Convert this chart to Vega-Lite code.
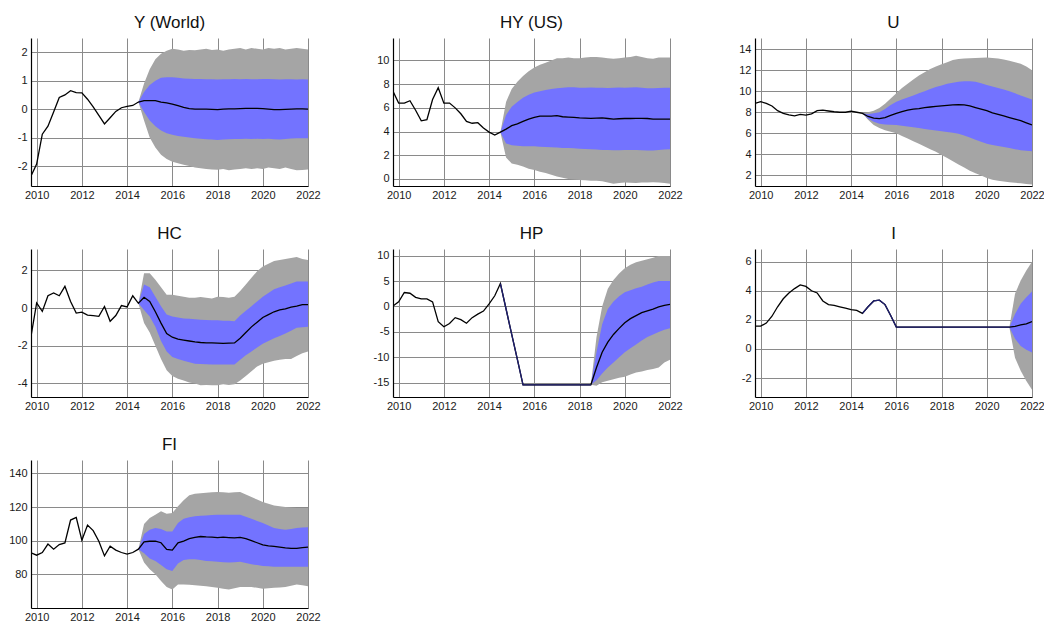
{
"$schema": "https://vega.github.io/schema/vega-lite/v6.json",
"padding": {"left": 8, "top": 14, "right": 0, "bottom": 5},
"background": "white",
"datasets": {
"d": [
{"p":"Y","t":2009.75,"m":-2.35},{"p":"Y","t":2010,"m":-1.93},{"p":"Y","t":2010.25,"m":-0.88},{"p":"Y","t":2010.5,"m":-0.6},{"p":"Y","t":2010.75,"m":-0.1},{"p":"Y","t":2011,"m":0.41},{"p":"Y","t":2011.25,"m":0.5},{"p":"Y","t":2011.5,"m":0.65},{"p":"Y","t":2011.75,"m":0.58},{"p":"Y","t":2012,"m":0.57},{"p":"Y","t":2012.25,"m":0.35},{"p":"Y","t":2012.5,"m":0.08},{"p":"Y","t":2012.75,"m":-0.22},{"p":"Y","t":2013,"m":-0.52},{"p":"Y","t":2013.25,"m":-0.3},{"p":"Y","t":2013.5,"m":-0.08},{"p":"Y","t":2013.75,"m":0.05},{"p":"Y","t":2014,"m":0.1},{"p":"Y","t":2014.25,"m":0.13},
{"p":"Y","t":2014.5,"m":0.25,"lo90":0.25,"hi90":0.25,"lo68":0.25,"hi68":0.25},
{"p":"Y","t":2014.75,"m":0.3,"lo90":-0.4,"hi90":0.9,"lo68":-0.1,"hi68":0.6},
{"p":"Y","t":2015,"m":0.3,"lo90":-1.0,"hi90":1.4,"lo68":-0.4,"hi68":0.85},
{"p":"Y","t":2015.25,"m":0.3,"lo90":-1.35,"hi90":1.75,"lo68":-0.6,"hi68":1.0},
{"p":"Y","t":2015.5,"m":0.25,"lo90":-1.6,"hi90":1.95,"lo68":-0.75,"hi68":1.1},
{"p":"Y","t":2015.75,"m":0.22,"lo90":-1.75,"hi90":2.05,"lo68":-0.85,"hi68":1.12},
{"p":"Y","t":2016,"m":0.18,"lo90":-1.85,"hi90":2.12,"lo68":-0.9,"hi68":1.12},
{"p":"Y","t":2016.25,"m":0.12,"lo90":-1.9,"hi90":2.1,"lo68":-0.94,"hi68":1.1},
{"p":"Y","t":2016.5,"m":0.06,"lo90":-1.95,"hi90":2.05,"lo68":-0.97,"hi68":1.08},
{"p":"Y","t":2016.75,"m":0.02,"lo90":-2.0,"hi90":2.08,"lo68":-1.0,"hi68":1.07},
{"p":"Y","t":2017,"m":0.0,"lo90":-2.05,"hi90":2.07,"lo68":-1.02,"hi68":1.06},
{"p":"Y","t":2017.25,"m":0.0,"lo90":-2.08,"hi90":2.1,"lo68":-1.04,"hi68":1.06},
{"p":"Y","t":2017.5,"m":0.0,"lo90":-2.1,"hi90":2.12,"lo68":-1.06,"hi68":1.05},
{"p":"Y","t":2017.75,"m":-0.01,"lo90":-2.12,"hi90":2.08,"lo68":-1.07,"hi68":1.05},
{"p":"Y","t":2018,"m":-0.02,"lo90":-2.13,"hi90":2.1,"lo68":-1.08,"hi68":1.04},
{"p":"Y","t":2018.25,"m":0.0,"lo90":-2.1,"hi90":2.05,"lo68":-1.07,"hi68":1.05},
{"p":"Y","t":2018.5,"m":0.01,"lo90":-2.15,"hi90":2.1,"lo68":-1.06,"hi68":1.05},
{"p":"Y","t":2018.75,"m":0.01,"lo90":-2.12,"hi90":2.12,"lo68":-1.05,"hi68":1.06},
{"p":"Y","t":2019,"m":0.02,"lo90":-2.1,"hi90":2.15,"lo68":-1.05,"hi68":1.05},
{"p":"Y","t":2019.25,"m":0.03,"lo90":-2.08,"hi90":2.1,"lo68":-1.04,"hi68":1.06},
{"p":"Y","t":2019.5,"m":0.03,"lo90":-2.1,"hi90":2.15,"lo68":-1.05,"hi68":1.05},
{"p":"Y","t":2019.75,"m":0.03,"lo90":-2.08,"hi90":2.12,"lo68":-1.04,"hi68":1.05},
{"p":"Y","t":2020,"m":0.02,"lo90":-2.1,"hi90":2.1,"lo68":-1.05,"hi68":1.06},
{"p":"Y","t":2020.25,"m":0.0,"lo90":-2.05,"hi90":2.15,"lo68":-1.04,"hi68":1.06},
{"p":"Y","t":2020.5,"m":-0.02,"lo90":-2.08,"hi90":2.12,"lo68":-1.06,"hi68":1.05},
{"p":"Y","t":2020.75,"m":-0.02,"lo90":-2.1,"hi90":2.15,"lo68":-1.07,"hi68":1.04},
{"p":"Y","t":2021,"m":-0.01,"lo90":-2.05,"hi90":2.1,"lo68":-1.05,"hi68":1.05},
{"p":"Y","t":2021.25,"m":0.0,"lo90":-2.1,"hi90":2.12,"lo68":-1.03,"hi68":1.05},
{"p":"Y","t":2021.5,"m":0.01,"lo90":-2.15,"hi90":2.15,"lo68":-1.02,"hi68":1.04},
{"p":"Y","t":2021.75,"m":0.01,"lo90":-2.14,"hi90":2.12,"lo68":-1.02,"hi68":1.05},
{"p":"Y","t":2022,"m":0.0,"lo90":-2.12,"hi90":2.1,"lo68":-1.02,"hi68":1.04},

{"p":"HY","t":2009.75,"m":7.4},{"p":"HY","t":2010,"m":6.4},{"p":"HY","t":2010.25,"m":6.4},{"p":"HY","t":2010.5,"m":6.6},{"p":"HY","t":2010.75,"m":5.8},{"p":"HY","t":2011,"m":4.9},{"p":"HY","t":2011.25,"m":5.0},{"p":"HY","t":2011.5,"m":6.7},{"p":"HY","t":2011.75,"m":7.7},{"p":"HY","t":2012,"m":6.4},{"p":"HY","t":2012.25,"m":6.4},{"p":"HY","t":2012.5,"m":6.0},{"p":"HY","t":2012.75,"m":5.5},{"p":"HY","t":2013,"m":4.85},{"p":"HY","t":2013.25,"m":4.7},{"p":"HY","t":2013.5,"m":4.75},{"p":"HY","t":2013.75,"m":4.3},{"p":"HY","t":2014,"m":3.95},{"p":"HY","t":2014.25,"m":3.7},
{"p":"HY","t":2014.5,"m":3.95,"lo90":3.95,"hi90":3.95,"lo68":3.95,"hi68":3.95},
{"p":"HY","t":2014.75,"m":4.2,"lo90":1.8,"hi90":6.5,"lo68":3.0,"hi68":5.4},
{"p":"HY","t":2015,"m":4.5,"lo90":1.3,"hi90":7.6,"lo68":2.85,"hi68":6.1},
{"p":"HY","t":2015.25,"m":4.65,"lo90":1.2,"hi90":8.2,"lo68":2.8,"hi68":6.5},
{"p":"HY","t":2015.5,"m":4.85,"lo90":1.05,"hi90":8.7,"lo68":2.75,"hi68":6.85},
{"p":"HY","t":2015.75,"m":5.05,"lo90":0.85,"hi90":9.1,"lo68":2.75,"hi68":7.1},
{"p":"HY","t":2016,"m":5.2,"lo90":0.75,"hi90":9.4,"lo68":2.75,"hi68":7.3},
{"p":"HY","t":2016.25,"m":5.3,"lo90":0.6,"hi90":9.65,"lo68":2.72,"hi68":7.4},
{"p":"HY","t":2016.5,"m":5.3,"lo90":0.5,"hi90":9.8,"lo68":2.7,"hi68":7.5},
{"p":"HY","t":2016.75,"m":5.3,"lo90":0.35,"hi90":10.0,"lo68":2.68,"hi68":7.6},
{"p":"HY","t":2017,"m":5.35,"lo90":0.2,"hi90":10.2,"lo68":2.65,"hi68":7.65},
{"p":"HY","t":2017.25,"m":5.25,"lo90":0.1,"hi90":10.2,"lo68":2.62,"hi68":7.7},
{"p":"HY","t":2017.5,"m":5.22,"lo90":0.0,"hi90":10.25,"lo68":2.6,"hi68":7.75},
{"p":"HY","t":2017.75,"m":5.2,"lo90":-0.05,"hi90":10.2,"lo68":2.58,"hi68":7.75},
{"p":"HY","t":2018,"m":5.15,"lo90":-0.1,"hi90":10.2,"lo68":2.55,"hi68":7.7},
{"p":"HY","t":2018.25,"m":5.13,"lo90":-0.12,"hi90":10.25,"lo68":2.52,"hi68":7.7},
{"p":"HY","t":2018.5,"m":5.12,"lo90":-0.15,"hi90":10.3,"lo68":2.5,"hi68":7.72},
{"p":"HY","t":2018.75,"m":5.13,"lo90":-0.15,"hi90":10.3,"lo68":2.48,"hi68":7.7},
{"p":"HY","t":2019,"m":5.15,"lo90":-0.2,"hi90":10.25,"lo68":2.45,"hi68":7.7},
{"p":"HY","t":2019.25,"m":5.1,"lo90":-0.3,"hi90":10.2,"lo68":2.45,"hi68":7.68},
{"p":"HY","t":2019.5,"m":5.05,"lo90":-0.4,"hi90":10.15,"lo68":2.43,"hi68":7.7},
{"p":"HY","t":2019.75,"m":5.08,"lo90":-0.35,"hi90":10.2,"lo68":2.42,"hi68":7.72},
{"p":"HY","t":2020,"m":5.1,"lo90":-0.3,"hi90":10.25,"lo68":2.45,"hi68":7.7},
{"p":"HY","t":2020.25,"m":5.1,"lo90":-0.32,"hi90":10.3,"lo68":2.45,"hi68":7.72},
{"p":"HY","t":2020.5,"m":5.12,"lo90":-0.35,"hi90":10.4,"lo68":2.45,"hi68":7.75},
{"p":"HY","t":2020.75,"m":5.12,"lo90":-0.3,"hi90":10.3,"lo68":2.43,"hi68":7.7},
{"p":"HY","t":2021,"m":5.1,"lo90":-0.3,"hi90":10.2,"lo68":2.4,"hi68":7.65},
{"p":"HY","t":2021.25,"m":5.05,"lo90":-0.28,"hi90":10.15,"lo68":2.4,"hi68":7.65},
{"p":"HY","t":2021.5,"m":5.05,"lo90":-0.3,"hi90":10.25,"lo68":2.45,"hi68":7.68},
{"p":"HY","t":2021.75,"m":5.05,"lo90":-0.35,"hi90":10.25,"lo68":2.48,"hi68":7.7},
{"p":"HY","t":2022,"m":5.05,"lo90":-0.4,"hi90":10.25,"lo68":2.5,"hi68":7.7},

{"p":"U","t":2009.75,"m":8.85},{"p":"U","t":2010,"m":9.0},{"p":"U","t":2010.25,"m":8.85},{"p":"U","t":2010.5,"m":8.6},{"p":"U","t":2010.75,"m":8.15},{"p":"U","t":2011,"m":7.9},{"p":"U","t":2011.25,"m":7.75},{"p":"U","t":2011.5,"m":7.65},{"p":"U","t":2011.75,"m":7.8},{"p":"U","t":2012,"m":7.72},{"p":"U","t":2012.25,"m":7.85},{"p":"U","t":2012.5,"m":8.15},{"p":"U","t":2012.75,"m":8.2},{"p":"U","t":2013,"m":8.12},{"p":"U","t":2013.25,"m":8.05},{"p":"U","t":2013.5,"m":8.0},{"p":"U","t":2013.75,"m":8.0},{"p":"U","t":2014,"m":8.1},{"p":"U","t":2014.25,"m":8.0},
{"p":"U","t":2014.5,"m":7.9,"lo90":7.9,"hi90":7.9,"lo68":7.9,"hi68":7.9},
{"p":"U","t":2014.75,"m":7.6,"lo90":7.3,"hi90":8.0,"lo68":7.4,"hi68":7.8},
{"p":"U","t":2015,"m":7.45,"lo90":6.8,"hi90":8.15,"lo68":7.1,"hi68":7.9},
{"p":"U","t":2015.25,"m":7.4,"lo90":6.5,"hi90":8.4,"lo68":6.9,"hi68":8.0},
{"p":"U","t":2015.5,"m":7.5,"lo90":6.3,"hi90":8.8,"lo68":6.85,"hi68":8.3},
{"p":"U","t":2015.75,"m":7.7,"lo90":6.15,"hi90":9.3,"lo68":6.82,"hi68":8.7},
{"p":"U","t":2016,"m":7.9,"lo90":6.0,"hi90":9.8,"lo68":6.8,"hi68":9.0},
{"p":"U","t":2016.25,"m":8.05,"lo90":5.75,"hi90":10.3,"lo68":6.72,"hi68":9.2},
{"p":"U","t":2016.5,"m":8.2,"lo90":5.5,"hi90":10.7,"lo68":6.65,"hi68":9.4},
{"p":"U","t":2016.75,"m":8.3,"lo90":5.25,"hi90":11.1,"lo68":6.58,"hi68":9.6},
{"p":"U","t":2017,"m":8.35,"lo90":5.0,"hi90":11.5,"lo68":6.5,"hi68":9.8},
{"p":"U","t":2017.25,"m":8.45,"lo90":4.75,"hi90":11.8,"lo68":6.42,"hi68":10.0},
{"p":"U","t":2017.5,"m":8.5,"lo90":4.5,"hi90":12.1,"lo68":6.35,"hi68":10.2},
{"p":"U","t":2017.75,"m":8.55,"lo90":4.25,"hi90":12.35,"lo68":6.28,"hi68":10.4},
{"p":"U","t":2018,"m":8.6,"lo90":3.95,"hi90":12.55,"lo68":6.2,"hi68":10.55},
{"p":"U","t":2018.25,"m":8.65,"lo90":3.65,"hi90":12.75,"lo68":6.12,"hi68":10.7},
{"p":"U","t":2018.5,"m":8.7,"lo90":3.35,"hi90":12.95,"lo68":6.05,"hi68":10.8},
{"p":"U","t":2018.75,"m":8.72,"lo90":3.05,"hi90":13.05,"lo68":5.95,"hi68":10.9},
{"p":"U","t":2019,"m":8.7,"lo90":2.75,"hi90":13.1,"lo68":5.8,"hi68":10.95},
{"p":"U","t":2019.25,"m":8.6,"lo90":2.45,"hi90":13.12,"lo68":5.6,"hi68":10.95},
{"p":"U","t":2019.5,"m":8.45,"lo90":2.2,"hi90":13.15,"lo68":5.4,"hi68":10.9},
{"p":"U","t":2019.75,"m":8.3,"lo90":2.0,"hi90":13.18,"lo68":5.2,"hi68":10.75},
{"p":"U","t":2020,"m":8.15,"lo90":1.75,"hi90":13.2,"lo68":5.0,"hi68":10.6},
{"p":"U","t":2020.25,"m":7.95,"lo90":1.6,"hi90":13.15,"lo68":4.9,"hi68":10.45},
{"p":"U","t":2020.5,"m":7.8,"lo90":1.5,"hi90":13.1,"lo68":4.8,"hi68":10.3},
{"p":"U","t":2020.75,"m":7.65,"lo90":1.42,"hi90":13.0,"lo68":4.7,"hi68":10.15},
{"p":"U","t":2021,"m":7.5,"lo90":1.35,"hi90":12.9,"lo68":4.6,"hi68":10.0},
{"p":"U","t":2021.25,"m":7.35,"lo90":1.3,"hi90":12.75,"lo68":4.5,"hi68":9.8},
{"p":"U","t":2021.5,"m":7.2,"lo90":1.25,"hi90":12.6,"lo68":4.4,"hi68":9.6},
{"p":"U","t":2021.75,"m":7.0,"lo90":1.2,"hi90":12.35,"lo68":4.35,"hi68":9.4},
{"p":"U","t":2022,"m":6.8,"lo90":1.15,"hi90":12.0,"lo68":4.3,"hi68":9.2},

{"p":"HC","t":2009.75,"m":-1.5},{"p":"HC","t":2010,"m":0.27},{"p":"HC","t":2010.25,"m":-0.18},{"p":"HC","t":2010.5,"m":0.65},{"p":"HC","t":2010.75,"m":0.8},{"p":"HC","t":2011,"m":0.65},{"p":"HC","t":2011.25,"m":1.15},{"p":"HC","t":2011.5,"m":0.35},{"p":"HC","t":2011.75,"m":-0.27},{"p":"HC","t":2012,"m":-0.22},{"p":"HC","t":2012.25,"m":-0.38},{"p":"HC","t":2012.5,"m":-0.4},{"p":"HC","t":2012.75,"m":-0.44},{"p":"HC","t":2013,"m":0.08},{"p":"HC","t":2013.25,"m":-0.7},{"p":"HC","t":2013.5,"m":-0.4},{"p":"HC","t":2013.75,"m":0.13},{"p":"HC","t":2014,"m":0.06},{"p":"HC","t":2014.25,"m":0.65},
{"p":"HC","t":2014.5,"m":0.25,"lo90":0.25,"hi90":0.25,"lo68":0.25,"hi68":0.25},
{"p":"HC","t":2014.75,"m":0.57,"lo90":-0.8,"hi90":1.85,"lo68":-0.1,"hi68":1.25},
{"p":"HC","t":2015,"m":0.35,"lo90":-1.3,"hi90":1.85,"lo68":-0.45,"hi68":1.1},
{"p":"HC","t":2015.25,"m":-0.2,"lo90":-2.0,"hi90":1.5,"lo68":-1.0,"hi68":0.6},
{"p":"HC","t":2015.5,"m":-0.8,"lo90":-2.7,"hi90":1.1,"lo68":-1.75,"hi68":0.1},
{"p":"HC","t":2015.75,"m":-1.35,"lo90":-3.3,"hi90":0.7,"lo68":-2.3,"hi68":-0.35},
{"p":"HC","t":2016,"m":-1.55,"lo90":-3.6,"hi90":0.7,"lo68":-2.6,"hi68":-0.45},
{"p":"HC","t":2016.25,"m":-1.65,"lo90":-3.75,"hi90":0.65,"lo68":-2.7,"hi68":-0.5},
{"p":"HC","t":2016.5,"m":-1.7,"lo90":-3.85,"hi90":0.6,"lo68":-2.8,"hi68":-0.55},
{"p":"HC","t":2016.75,"m":-1.75,"lo90":-3.95,"hi90":0.55,"lo68":-2.88,"hi68":-0.57},
{"p":"HC","t":2017,"m":-1.8,"lo90":-4.0,"hi90":0.55,"lo68":-2.95,"hi68":-0.6},
{"p":"HC","t":2017.25,"m":-1.83,"lo90":-4.1,"hi90":0.58,"lo68":-2.97,"hi68":-0.62},
{"p":"HC","t":2017.5,"m":-1.85,"lo90":-4.08,"hi90":0.55,"lo68":-2.98,"hi68":-0.63},
{"p":"HC","t":2017.75,"m":-1.85,"lo90":-4.1,"hi90":0.5,"lo68":-3.0,"hi68":-0.65},
{"p":"HC","t":2018,"m":-1.86,"lo90":-4.1,"hi90":0.6,"lo68":-3.0,"hi68":-0.65},
{"p":"HC","t":2018.25,"m":-1.88,"lo90":-4.05,"hi90":0.58,"lo68":-3.0,"hi68":-0.67},
{"p":"HC","t":2018.5,"m":-1.86,"lo90":-4.08,"hi90":0.55,"lo68":-3.0,"hi68":-0.68},
{"p":"HC","t":2018.75,"m":-1.85,"lo90":-4.05,"hi90":0.6,"lo68":-3.0,"hi68":-0.7},
{"p":"HC","t":2019,"m":-1.6,"lo90":-3.85,"hi90":0.9,"lo68":-2.75,"hi68":-0.4},
{"p":"HC","t":2019.25,"m":-1.3,"lo90":-3.6,"hi90":1.25,"lo68":-2.5,"hi68":-0.15},
{"p":"HC","t":2019.5,"m":-1.0,"lo90":-3.35,"hi90":1.6,"lo68":-2.3,"hi68":0.1},
{"p":"HC","t":2019.75,"m":-0.75,"lo90":-3.1,"hi90":1.95,"lo68":-2.1,"hi68":0.35},
{"p":"HC","t":2020,"m":-0.5,"lo90":-2.95,"hi90":2.2,"lo68":-1.9,"hi68":0.6},
{"p":"HC","t":2020.25,"m":-0.35,"lo90":-2.88,"hi90":2.35,"lo68":-1.75,"hi68":0.8},
{"p":"HC","t":2020.5,"m":-0.2,"lo90":-2.8,"hi90":2.5,"lo68":-1.6,"hi68":1.0},
{"p":"HC","t":2020.75,"m":-0.1,"lo90":-2.75,"hi90":2.55,"lo68":-1.48,"hi68":1.1},
{"p":"HC","t":2021,"m":-0.05,"lo90":-2.7,"hi90":2.6,"lo68":-1.35,"hi68":1.2},
{"p":"HC","t":2021.25,"m":0.05,"lo90":-2.7,"hi90":2.65,"lo68":-1.2,"hi68":1.3},
{"p":"HC","t":2021.5,"m":0.1,"lo90":-2.55,"hi90":2.7,"lo68":-1.05,"hi68":1.4},
{"p":"HC","t":2021.75,"m":0.18,"lo90":-2.4,"hi90":2.6,"lo68":-1.02,"hi68":1.4},
{"p":"HC","t":2022,"m":0.18,"lo90":-2.3,"hi90":2.55,"lo68":-1.0,"hi68":1.4},

{"p":"HP","t":2009.75,"m":0.1},{"p":"HP","t":2010,"m":0.9},{"p":"HP","t":2010.25,"m":2.75},{"p":"HP","t":2010.5,"m":2.6},{"p":"HP","t":2010.75,"m":1.8},{"p":"HP","t":2011,"m":1.5},{"p":"HP","t":2011.25,"m":1.5},{"p":"HP","t":2011.5,"m":0.9},{"p":"HP","t":2011.75,"m":-3.0},{"p":"HP","t":2012,"m":-4.0},{"p":"HP","t":2012.25,"m":-3.35},{"p":"HP","t":2012.5,"m":-2.2},{"p":"HP","t":2012.75,"m":-2.6},{"p":"HP","t":2013,"m":-3.3},{"p":"HP","t":2013.25,"m":-2.2},{"p":"HP","t":2013.5,"m":-1.5},{"p":"HP","t":2013.75,"m":-0.9},{"p":"HP","t":2014,"m":0.5},{"p":"HP","t":2014.25,"m":2.1},
{"p":"HP","t":2014.5,"m":4.5,"mc":4.5},{"p":"HP","t":2014.75,"m":-0.5,"mc":-0.5},{"p":"HP","t":2015,"m":-5.5,"mc":-5.5},{"p":"HP","t":2015.25,"m":-10.4,"mc":-10.4},{"p":"HP","t":2015.5,"m":-15.4,"mc":-15.4},{"p":"HP","t":2015.75,"m":-15.4,"mc":-15.4},{"p":"HP","t":2016,"m":-15.4,"mc":-15.4},{"p":"HP","t":2016.25,"m":-15.4,"mc":-15.4},{"p":"HP","t":2016.5,"m":-15.4,"mc":-15.4},{"p":"HP","t":2016.75,"m":-15.4,"mc":-15.4},{"p":"HP","t":2017,"m":-15.4,"mc":-15.4},{"p":"HP","t":2017.25,"m":-15.4,"mc":-15.4},{"p":"HP","t":2017.5,"m":-15.4,"mc":-15.4},{"p":"HP","t":2017.75,"m":-15.4,"mc":-15.4},{"p":"HP","t":2018,"m":-15.4,"mc":-15.4},{"p":"HP","t":2018.25,"m":-15.4,"mc":-15.4},
{"p":"HP","t":2018.5,"m":-15.4,"mc":-15.4,"lo90":-15.4,"hi90":-15.4,"lo68":-15.4,"hi68":-15.4},
{"p":"HP","t":2018.75,"m":-12.0,"lo90":-15.6,"hi90":-6.0,"lo68":-14.5,"hi68":-9.0},
{"p":"HP","t":2019,"m":-9.0,"lo90":-14.9,"hi90":0.0,"lo68":-13.2,"hi68":-3.5},
{"p":"HP","t":2019.25,"m":-7.0,"lo90":-14.6,"hi90":3.5,"lo68":-12.0,"hi68":-0.5},
{"p":"HP","t":2019.5,"m":-5.5,"lo90":-14.3,"hi90":5.2,"lo68":-11.0,"hi68":1.0},
{"p":"HP","t":2019.75,"m":-4.3,"lo90":-14.0,"hi90":6.5,"lo68":-10.0,"hi68":2.0},
{"p":"HP","t":2020,"m":-3.2,"lo90":-13.8,"hi90":7.5,"lo68":-9.0,"hi68":2.8},
{"p":"HP","t":2020.25,"m":-2.4,"lo90":-13.4,"hi90":8.2,"lo68":-8.2,"hi68":3.2},
{"p":"HP","t":2020.5,"m":-1.8,"lo90":-13.0,"hi90":8.7,"lo68":-7.5,"hi68":3.6},
{"p":"HP","t":2020.75,"m":-1.2,"lo90":-12.8,"hi90":9.0,"lo68":-6.7,"hi68":3.9},
{"p":"HP","t":2021,"m":-0.85,"lo90":-12.5,"hi90":9.3,"lo68":-6.0,"hi68":4.3},
{"p":"HP","t":2021.25,"m":-0.5,"lo90":-12.3,"hi90":9.6,"lo68":-5.5,"hi68":4.7},
{"p":"HP","t":2021.5,"m":-0.1,"lo90":-12.0,"hi90":9.9,"lo68":-5.0,"hi68":5.0},
{"p":"HP","t":2021.75,"m":0.2,"lo90":-11.0,"hi90":9.9,"lo68":-4.6,"hi68":5.0},
{"p":"HP","t":2022,"m":0.4,"lo90":-10.5,"hi90":9.9,"lo68":-4.3,"hi68":5.0},

{"p":"I","t":2009.75,"m":1.57},{"p":"I","t":2010,"m":1.57},{"p":"I","t":2010.25,"m":1.78},{"p":"I","t":2010.5,"m":2.25},{"p":"I","t":2010.75,"m":2.9},{"p":"I","t":2011,"m":3.45},{"p":"I","t":2011.25,"m":3.85},{"p":"I","t":2011.5,"m":4.15},{"p":"I","t":2011.75,"m":4.4},{"p":"I","t":2012,"m":4.3},{"p":"I","t":2012.25,"m":4.0},{"p":"I","t":2012.5,"m":3.85},{"p":"I","t":2012.75,"m":3.3},{"p":"I","t":2013,"m":3.05},{"p":"I","t":2013.25,"m":3.0},{"p":"I","t":2013.5,"m":2.9},{"p":"I","t":2013.75,"m":2.8},{"p":"I","t":2014,"m":2.7},{"p":"I","t":2014.25,"m":2.65},
{"p":"I","t":2014.5,"m":2.45,"mc":2.45},{"p":"I","t":2014.75,"m":2.9,"mc":2.9},{"p":"I","t":2015,"m":3.3,"mc":3.3},{"p":"I","t":2015.25,"m":3.35,"mc":3.35},{"p":"I","t":2015.5,"m":3.05,"mc":3.05},{"p":"I","t":2015.75,"m":2.3,"mc":2.3},{"p":"I","t":2016,"m":1.5,"mc":1.5},{"p":"I","t":2016.25,"m":1.5,"mc":1.5},{"p":"I","t":2016.5,"m":1.5,"mc":1.5},{"p":"I","t":2016.75,"m":1.5,"mc":1.5},{"p":"I","t":2017,"m":1.5,"mc":1.5},{"p":"I","t":2017.25,"m":1.5,"mc":1.5},{"p":"I","t":2017.5,"m":1.5,"mc":1.5},{"p":"I","t":2017.75,"m":1.5,"mc":1.5},{"p":"I","t":2018,"m":1.5,"mc":1.5},{"p":"I","t":2018.25,"m":1.5,"mc":1.5},{"p":"I","t":2018.5,"m":1.5,"mc":1.5},{"p":"I","t":2018.75,"m":1.5,"mc":1.5},{"p":"I","t":2019,"m":1.5,"mc":1.5},{"p":"I","t":2019.25,"m":1.5,"mc":1.5},{"p":"I","t":2019.5,"m":1.5,"mc":1.5},{"p":"I","t":2019.75,"m":1.5,"mc":1.5},{"p":"I","t":2020,"m":1.5,"mc":1.5},{"p":"I","t":2020.25,"m":1.5,"mc":1.5},{"p":"I","t":2020.5,"m":1.5,"mc":1.5},{"p":"I","t":2020.75,"m":1.5,"mc":1.5},
{"p":"I","t":2021,"m":1.5,"mc":1.5,"lo90":1.5,"hi90":1.5,"lo68":1.5,"hi68":1.5},
{"p":"I","t":2021.25,"m":1.55,"lo90":-0.6,"hi90":3.8,"lo68":0.7,"hi68":2.4},
{"p":"I","t":2021.5,"m":1.65,"lo90":-1.5,"hi90":4.7,"lo68":0.2,"hi68":3.1},
{"p":"I","t":2021.75,"m":1.72,"lo90":-2.2,"hi90":5.4,"lo68":-0.05,"hi68":3.55},
{"p":"I","t":2022,"m":1.88,"lo90":-2.8,"hi90":6.0,"lo68":-0.25,"hi68":3.95},

{"p":"FI","t":2009.75,"m":92.8},{"p":"FI","t":2010,"m":91.4},{"p":"FI","t":2010.25,"m":93},{"p":"FI","t":2010.5,"m":98},{"p":"FI","t":2010.75,"m":95},{"p":"FI","t":2011,"m":97.7},{"p":"FI","t":2011.25,"m":98.7},{"p":"FI","t":2011.5,"m":112.3},{"p":"FI","t":2011.75,"m":113.9},{"p":"FI","t":2012,"m":100.3},{"p":"FI","t":2012.25,"m":109.3},{"p":"FI","t":2012.5,"m":106},{"p":"FI","t":2012.75,"m":99.7},{"p":"FI","t":2013,"m":91},{"p":"FI","t":2013.25,"m":96.7},{"p":"FI","t":2013.5,"m":94.4},{"p":"FI","t":2013.75,"m":93},{"p":"FI","t":2014,"m":92},{"p":"FI","t":2014.25,"m":93},
{"p":"FI","t":2014.5,"m":95,"lo90":95,"hi90":95,"lo68":95,"hi68":95},
{"p":"FI","t":2014.75,"m":99.3,"lo90":87,"hi90":110,"lo68":92.5,"hi68":104},
{"p":"FI","t":2015,"m":99.7,"lo90":83,"hi90":113.5,"lo68":89.5,"hi68":106.5},
{"p":"FI","t":2015.25,"m":99.7,"lo90":80,"hi90":115.5,"lo68":88,"hi68":107.5},
{"p":"FI","t":2015.5,"m":98.8,"lo90":76,"hi90":117.5,"lo68":85.5,"hi68":107},
{"p":"FI","t":2015.75,"m":94.8,"lo90":72.5,"hi90":116,"lo68":83,"hi68":105.5},
{"p":"FI","t":2016,"m":94.4,"lo90":71,"hi90":116.5,"lo68":82,"hi68":105.5},
{"p":"FI","t":2016.25,"m":98.7,"lo90":74,"hi90":120.5,"lo68":86.5,"hi68":110.5},
{"p":"FI","t":2016.5,"m":99.8,"lo90":74,"hi90":124,"lo68":88.5,"hi68":113},
{"p":"FI","t":2016.75,"m":101.2,"lo90":73.8,"hi90":127,"lo68":89,"hi68":114},
{"p":"FI","t":2017,"m":102.0,"lo90":73.5,"hi90":128,"lo68":89,"hi68":114.5},
{"p":"FI","t":2017.25,"m":102.5,"lo90":73.2,"hi90":128.3,"lo68":88.5,"hi68":114.8},
{"p":"FI","t":2017.5,"m":102.3,"lo90":73,"hi90":128.5,"lo68":88,"hi68":115},
{"p":"FI","t":2017.75,"m":102.2,"lo90":72.5,"hi90":128.8,"lo68":87.8,"hi68":115.3},
{"p":"FI","t":2018,"m":101.9,"lo90":72,"hi90":129,"lo68":87.5,"hi68":115.5},
{"p":"FI","t":2018.25,"m":102.1,"lo90":71.5,"hi90":128.8,"lo68":87.2,"hi68":115.5},
{"p":"FI","t":2018.5,"m":101.9,"lo90":71,"hi90":128.5,"lo68":87,"hi68":115.5},
{"p":"FI","t":2018.75,"m":101.7,"lo90":71.8,"hi90":128.8,"lo68":87.2,"hi68":115.5},
{"p":"FI","t":2019,"m":102.0,"lo90":72.5,"hi90":129,"lo68":87.5,"hi68":115.5},
{"p":"FI","t":2019.25,"m":101.2,"lo90":72.5,"hi90":127.5,"lo68":86.8,"hi68":114.3},
{"p":"FI","t":2019.5,"m":100.0,"lo90":72.5,"hi90":126,"lo68":86,"hi68":113},
{"p":"FI","t":2019.75,"m":98.8,"lo90":72,"hi90":124.5,"lo68":85.5,"hi68":111.8},
{"p":"FI","t":2020,"m":97.5,"lo90":71.5,"hi90":123,"lo68":85,"hi68":110.5},
{"p":"FI","t":2020.25,"m":96.9,"lo90":71.8,"hi90":122,"lo68":84.8,"hi68":109},
{"p":"FI","t":2020.5,"m":96.6,"lo90":72,"hi90":121,"lo68":84.5,"hi68":107.5},
{"p":"FI","t":2020.75,"m":96.2,"lo90":72.2,"hi90":120.5,"lo68":84.5,"hi68":107},
{"p":"FI","t":2021,"m":95.7,"lo90":72.5,"hi90":120,"lo68":84.5,"hi68":106.5},
{"p":"FI","t":2021.25,"m":95.4,"lo90":73.2,"hi90":119.8,"lo68":84.5,"hi68":107},
{"p":"FI","t":2021.5,"m":95.5,"lo90":74,"hi90":119.5,"lo68":84.5,"hi68":107.5},
{"p":"FI","t":2021.75,"m":95.9,"lo90":73.5,"hi90":119.5,"lo68":84.5,"hi68":107.8},
{"p":"FI","t":2022,"m":96.2,"lo90":73,"hi90":119.5,"lo68":84.5,"hi68":108}
]
},
"data": {"name": "d"},
"columns": 3,
"bounds": "flush",
"spacing": {"row": 63, "column": 85},
"concat": [
{"title": "Y (World)", "width": 277, "height": 148,
 "transform": [{"filter": "datum.p == 'Y'"}],
 "encoding": {"x": {"field": "t", "type": "quantitative", "title": null, "scale": {"domain": [2009.75, 2022], "nice": false, "zero": false}, "axis": {"values": [2010, 2012, 2014, 2016, 2018, 2020, 2022], "format": "d"}}},
 "layer": [
  {"transform": [{"filter": "isValid(datum.lo90)"}], "mark": {"type": "area", "color": "#a5a5a5", "opacity": 1, "clip": true}, "encoding": {"y": {"field": "lo90", "type": "quantitative", "title": null, "scale": {"domain": [-2.7, 2.5], "nice": false, "zero": false}, "axis": {"values": [-2, -1, 0, 1, 2]}}, "y2": {"field": "hi90"}}},
  {"transform": [{"filter": "isValid(datum.lo68)"}], "mark": {"type": "area", "color": "#7373ff", "opacity": 1, "clip": true}, "encoding": {"y": {"field": "lo68", "type": "quantitative", "title": null, "scale": {"domain": [-2.7, 2.5], "nice": false, "zero": false}, "axis": {"values": [-2, -1, 0, 1, 2]}}, "y2": {"field": "hi68"}}},
  {"mark": {"type": "line", "color": "#000000", "strokeWidth": 1.3, "clip": true}, "encoding": {"y": {"field": "m", "type": "quantitative", "title": null, "scale": {"domain": [-2.7, 2.5], "nice": false, "zero": false}, "axis": {"values": [-2, -1, 0, 1, 2]}}}}
 ]},
{"title": "HY (US)", "width": 277, "height": 148,
 "transform": [{"filter": "datum.p == 'HY'"}],
 "encoding": {"x": {"field": "t", "type": "quantitative", "title": null, "scale": {"domain": [2009.75, 2022], "nice": false, "zero": false}, "axis": {"values": [2010, 2012, 2014, 2016, 2018, 2020, 2022], "format": "d"}}},
 "layer": [
  {"transform": [{"filter": "isValid(datum.lo90)"}], "mark": {"type": "area", "color": "#a5a5a5", "opacity": 1, "clip": true}, "encoding": {"y": {"field": "lo90", "type": "quantitative", "title": null, "scale": {"domain": [-0.6, 11.9], "nice": false, "zero": false}, "axis": {"values": [0, 2, 4, 6, 8, 10]}}, "y2": {"field": "hi90"}}},
  {"transform": [{"filter": "isValid(datum.lo68)"}], "mark": {"type": "area", "color": "#7373ff", "opacity": 1, "clip": true}, "encoding": {"y": {"field": "lo68", "type": "quantitative", "title": null, "scale": {"domain": [-0.6, 11.9], "nice": false, "zero": false}, "axis": {"values": [0, 2, 4, 6, 8, 10]}}, "y2": {"field": "hi68"}}},
  {"mark": {"type": "line", "color": "#000000", "strokeWidth": 1.3, "clip": true}, "encoding": {"y": {"field": "m", "type": "quantitative", "title": null, "scale": {"domain": [-0.6, 11.9], "nice": false, "zero": false}, "axis": {"values": [0, 2, 4, 6, 8, 10]}}}}
 ]},
{"title": "U", "width": 277, "height": 148,
 "transform": [{"filter": "datum.p == 'U'"}],
 "encoding": {"x": {"field": "t", "type": "quantitative", "title": null, "scale": {"domain": [2009.75, 2022], "nice": false, "zero": false}, "axis": {"values": [2010, 2012, 2014, 2016, 2018, 2020, 2022], "format": "d"}}},
 "layer": [
  {"transform": [{"filter": "isValid(datum.lo90)"}], "mark": {"type": "area", "color": "#a5a5a5", "opacity": 1, "clip": true}, "encoding": {"y": {"field": "lo90", "type": "quantitative", "title": null, "scale": {"domain": [1, 15.05], "nice": false, "zero": false}, "axis": {"values": [2, 4, 6, 8, 10, 12, 14]}}, "y2": {"field": "hi90"}}},
  {"transform": [{"filter": "isValid(datum.lo68)"}], "mark": {"type": "area", "color": "#7373ff", "opacity": 1, "clip": true}, "encoding": {"y": {"field": "lo68", "type": "quantitative", "title": null, "scale": {"domain": [1, 15.05], "nice": false, "zero": false}, "axis": {"values": [2, 4, 6, 8, 10, 12, 14]}}, "y2": {"field": "hi68"}}},
  {"mark": {"type": "line", "color": "#000000", "strokeWidth": 1.3, "clip": true}, "encoding": {"y": {"field": "m", "type": "quantitative", "title": null, "scale": {"domain": [1, 15.05], "nice": false, "zero": false}, "axis": {"values": [2, 4, 6, 8, 10, 12, 14]}}}}
 ]},
{"title": "HC", "width": 277, "height": 148,
 "transform": [{"filter": "datum.p == 'HC'"}],
 "encoding": {"x": {"field": "t", "type": "quantitative", "title": null, "scale": {"domain": [2009.75, 2022], "nice": false, "zero": false}, "axis": {"values": [2010, 2012, 2014, 2016, 2018, 2020, 2022], "format": "d"}}},
 "layer": [
  {"transform": [{"filter": "isValid(datum.lo90)"}], "mark": {"type": "area", "color": "#a5a5a5", "opacity": 1, "clip": true}, "encoding": {"y": {"field": "lo90", "type": "quantitative", "title": null, "scale": {"domain": [-4.72, 3.13], "nice": false, "zero": false}, "axis": {"values": [-4, -2, 0, 2]}}, "y2": {"field": "hi90"}}},
  {"transform": [{"filter": "isValid(datum.lo68)"}], "mark": {"type": "area", "color": "#7373ff", "opacity": 1, "clip": true}, "encoding": {"y": {"field": "lo68", "type": "quantitative", "title": null, "scale": {"domain": [-4.72, 3.13], "nice": false, "zero": false}, "axis": {"values": [-4, -2, 0, 2]}}, "y2": {"field": "hi68"}}},
  {"mark": {"type": "line", "color": "#000000", "strokeWidth": 1.3, "clip": true}, "encoding": {"y": {"field": "m", "type": "quantitative", "title": null, "scale": {"domain": [-4.72, 3.13], "nice": false, "zero": false}, "axis": {"values": [-4, -2, 0, 2]}}}}
 ]},
{"title": "HP", "width": 277, "height": 148,
 "transform": [{"filter": "datum.p == 'HP'"}],
 "encoding": {"x": {"field": "t", "type": "quantitative", "title": null, "scale": {"domain": [2009.75, 2022], "nice": false, "zero": false}, "axis": {"values": [2010, 2012, 2014, 2016, 2018, 2020, 2022], "format": "d"}}},
 "layer": [
  {"transform": [{"filter": "isValid(datum.lo90)"}], "mark": {"type": "area", "color": "#a5a5a5", "opacity": 1, "clip": true}, "encoding": {"y": {"field": "lo90", "type": "quantitative", "title": null, "scale": {"domain": [-17.8, 11.3], "nice": false, "zero": false}, "axis": {"values": [-15, -10, -5, 0, 5, 10]}}, "y2": {"field": "hi90"}}},
  {"transform": [{"filter": "isValid(datum.lo68)"}], "mark": {"type": "area", "color": "#7373ff", "opacity": 1, "clip": true}, "encoding": {"y": {"field": "lo68", "type": "quantitative", "title": null, "scale": {"domain": [-17.8, 11.3], "nice": false, "zero": false}, "axis": {"values": [-15, -10, -5, 0, 5, 10]}}, "y2": {"field": "hi68"}}},
  {"mark": {"type": "line", "color": "#000000", "strokeWidth": 1.3, "clip": true}, "encoding": {"y": {"field": "m", "type": "quantitative", "title": null, "scale": {"domain": [-17.8, 11.3], "nice": false, "zero": false}, "axis": {"values": [-15, -10, -5, 0, 5, 10]}}}},
  {"transform": [{"filter": "isValid(datum.mc)"}], "mark": {"type": "line", "color": "#1e1e6e", "strokeWidth": 1.3, "clip": true}, "encoding": {"y": {"field": "mc", "type": "quantitative", "title": null, "scale": {"domain": [-17.8, 11.3], "nice": false, "zero": false}, "axis": {"values": [-15, -10, -5, 0, 5, 10]}}}}
 ]},
{"title": "I", "width": 277, "height": 148,
 "transform": [{"filter": "datum.p == 'I'"}],
 "encoding": {"x": {"field": "t", "type": "quantitative", "title": null, "scale": {"domain": [2009.75, 2022], "nice": false, "zero": false}, "axis": {"values": [2010, 2012, 2014, 2016, 2018, 2020, 2022], "format": "d"}}},
 "layer": [
  {"transform": [{"filter": "isValid(datum.lo90)"}], "mark": {"type": "area", "color": "#a5a5a5", "opacity": 1, "clip": true}, "encoding": {"y": {"field": "lo90", "type": "quantitative", "title": null, "scale": {"domain": [-3.3, 6.87], "nice": false, "zero": false}, "axis": {"values": [-2, 0, 2, 4, 6]}}, "y2": {"field": "hi90"}}},
  {"transform": [{"filter": "isValid(datum.lo68)"}], "mark": {"type": "area", "color": "#7373ff", "opacity": 1, "clip": true}, "encoding": {"y": {"field": "lo68", "type": "quantitative", "title": null, "scale": {"domain": [-3.3, 6.87], "nice": false, "zero": false}, "axis": {"values": [-2, 0, 2, 4, 6]}}, "y2": {"field": "hi68"}}},
  {"mark": {"type": "line", "color": "#000000", "strokeWidth": 1.3, "clip": true}, "encoding": {"y": {"field": "m", "type": "quantitative", "title": null, "scale": {"domain": [-3.3, 6.87], "nice": false, "zero": false}, "axis": {"values": [-2, 0, 2, 4, 6]}}}},
  {"transform": [{"filter": "isValid(datum.mc)"}], "mark": {"type": "line", "color": "#1e1e6e", "strokeWidth": 1.3, "clip": true}, "encoding": {"y": {"field": "mc", "type": "quantitative", "title": null, "scale": {"domain": [-3.3, 6.87], "nice": false, "zero": false}, "axis": {"values": [-2, 0, 2, 4, 6]}}}}
 ]},
{"title": "FI", "width": 277, "height": 148,
 "transform": [{"filter": "datum.p == 'FI'"}],
 "encoding": {"x": {"field": "t", "type": "quantitative", "title": null, "scale": {"domain": [2009.75, 2022], "nice": false, "zero": false}, "axis": {"values": [2010, 2012, 2014, 2016, 2018, 2020, 2022], "format": "d"}}},
 "layer": [
  {"transform": [{"filter": "isValid(datum.lo90)"}], "mark": {"type": "area", "color": "#a5a5a5", "opacity": 1, "clip": true}, "encoding": {"y": {"field": "lo90", "type": "quantitative", "title": null, "scale": {"domain": [60, 148], "nice": false, "zero": false}, "axis": {"values": [80, 100, 120, 140]}}, "y2": {"field": "hi90"}}},
  {"transform": [{"filter": "isValid(datum.lo68)"}], "mark": {"type": "area", "color": "#7373ff", "opacity": 1, "clip": true}, "encoding": {"y": {"field": "lo68", "type": "quantitative", "title": null, "scale": {"domain": [60, 148], "nice": false, "zero": false}, "axis": {"values": [80, 100, 120, 140]}}, "y2": {"field": "hi68"}}},
  {"mark": {"type": "line", "color": "#000000", "strokeWidth": 1.3, "clip": true}, "encoding": {"y": {"field": "m", "type": "quantitative", "title": null, "scale": {"domain": [60, 148], "nice": false, "zero": false}, "axis": {"values": [80, 100, 120, 140]}}}}
 ]}
],
"config": {
 "view": {"stroke": null},
 "locale": {"number": {"decimal": ".", "thousands": ",", "grouping": [3], "currency": ["$", ""], "minus": "-"}},
 "axis": {"grid": true, "gridColor": "#8a8a8a", "gridWidth": 1, "domainColor": "#000000", "domainWidth": 1.2, "labelFont": "Liberation Sans", "labelFontSize": 11, "labelColor": "#1a1a1a", "ticks": false, "labelPadding": 4, "labelOverlap": false, "labelFlush": false, "labelBound": false},
 "axisX": {"labelPadding": 3},
 "title": {"font": "Liberation Sans", "fontSize": 17, "fontWeight": "normal", "color": "#111111", "offset": 6}
}
}
